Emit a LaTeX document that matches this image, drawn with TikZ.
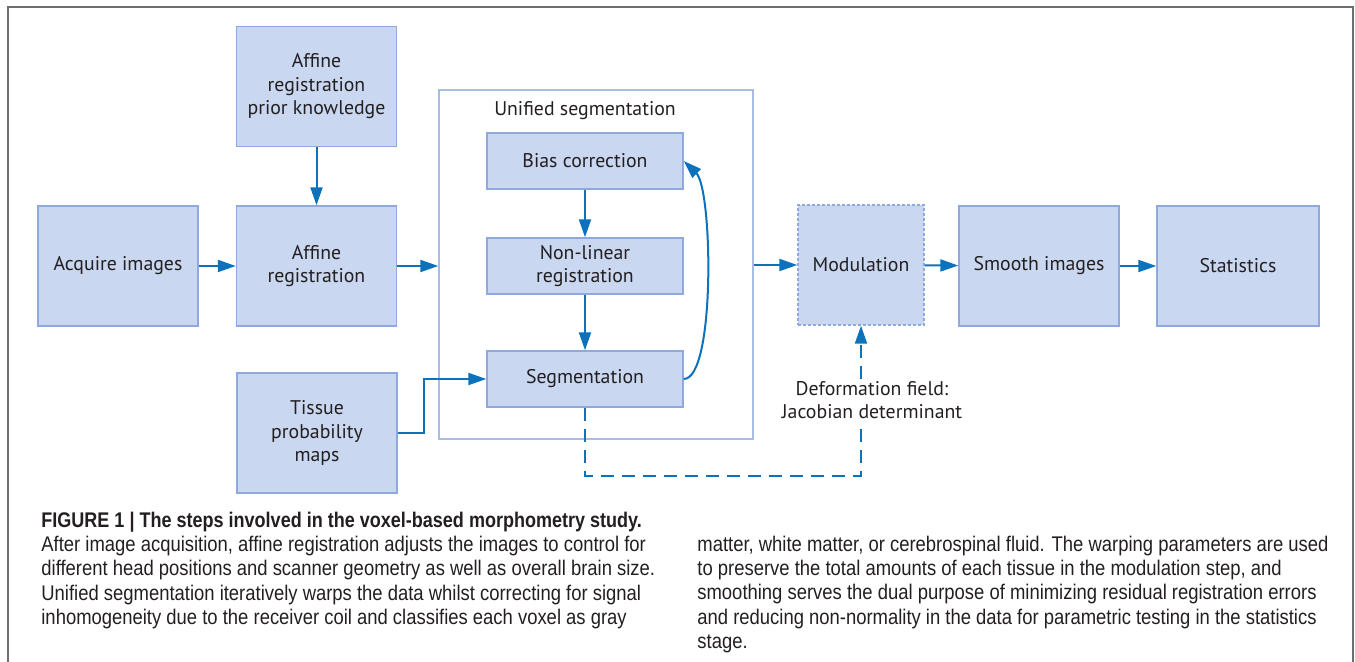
\documentclass[tikz,border=0pt]{standalone}
\usepackage{fontspec}
\setmainfont{PT Sans}
\newfontfamily\capfont[FakeStretch=0.87, BoldFeatures={FakeStretch=0.85}]{Liberation Sans}
\usepackage{tikz}
\usetikzlibrary{arrows.meta}
\definecolor{boxfill}{HTML}{C9D7F1}
\definecolor{boxline}{HTML}{8FA9DC}
\definecolor{frameline}{HTML}{A9BCE6}
\definecolor{flow}{HTML}{0B72BB}
\definecolor{ink}{HTML}{231F20}
\definecolor{pageline}{HTML}{6D6E71}
\newcommand{\diagfont}{\fontsize{9.9}{11.75}\selectfont}
\tikzstyle{process} = [rectangle, minimum width=80pt, minimum height=60pt, inner sep=0pt, text centered, align=center, draw=boxline, fill=boxfill, line width=0.7pt, text=ink, font=\diagfont]
\tikzstyle{subprocess} = [process, minimum width=98pt, minimum height=28pt]
\tikzstyle{optional} = [process, minimum width=63pt, dash pattern=on 1.5pt off 1pt]
\tikzstyle{group} = [rectangle, minimum width=157pt, minimum height=174.5pt, draw=frameline, line width=0.7pt]
\tikzstyle{note} = [text=ink, font=\diagfont, align=center, inner sep=1pt]
\tikzstyle{caption} = [text=ink, font={\capfont\fontsize{10.6}{12.05}\selectfont}, align=left, inner sep=0pt, anchor=north west]
\tikzstyle{arrow} = [line width=1pt, draw=flow, -{Triangle[length=9pt,width=6pt]}]
\tikzstyle{dashline} = [line width=1pt, draw=flow, dash pattern=on 6.5pt off 4pt]
\tikzstyle{dasharrow} = [arrow, dash pattern=on 6.5pt off 4pt]

\begin{document}
\begin{tikzpicture}[x=0.5pt, y=-0.5pt]
		\useasboundingbox (0,0) rectangle (1355,662);
		\draw [pageline, line width=0.8pt] (8,662) -- (8,7) -- (1353,7) -- (1353,662);
		
		\node (unified) [group] at (596,264.5) {};
		\node (title) [note] at (585,111) {Unified segmentation};
		
		\node (acq) [process] at (118,266) {Acquire images};
		\node (prior) [process] at (316.5,86.5) {Affine\\registration\\prior knowledge};
		\node (affine) [process] at (316.5,266) {Affine\\registration};
		\node (tpm) [process] at (317,433) {Tissue\\probability\\maps};
		
		\node (bias) [subprocess] at (585,161) {Bias correction};
		\node (nonlin) [subprocess] at (585,266) {Non-linear\\registration};
		\node (seg) [subprocess] at (585,379) {Segmentation};
		
		\node (mod) [optional] at (861,265) {Modulation};
		\node (smooth) [process] at (1039,266) {Smooth images};
		\node (stats) [process, minimum width=81pt] at (1238,266) {Statistics};
		\node (deform) [note] at (872,400) {Deformation field:\\Jacobian determinant};
		
		\draw [arrow] (acq) -- (affine);
		\draw [arrow] (prior) -- (affine);
		\draw [arrow] (affine.east) -- (affine.east -| unified.west);
		\draw [arrow] (tpm.east) -- ++(26,0) |- (seg.west);
		\draw [arrow] (bias) -- (nonlin);
		\draw [arrow] (nonlin) -- (seg);
		\draw [arrow] (seg.east) .. controls +(32,0) and +(29,28) .. (bias.east);
		\draw [arrow] (unified.east |- mod.west) -- (mod.west);
		\draw [arrow] (mod) -- (smooth);
		\draw [arrow] (smooth) -- (stats);
		
		\draw [dashline] (seg.south) -- ++(0,68) -| (deform.south -| mod.south);
		\draw [dasharrow] (deform.north -| mod.south) -- (mod.south);
		
		\node (capleft) [caption] at (41,512) {\textbf{FIGURE 1 | The steps involved in the voxel-based morphometry study.}\\
			After image acquisition, affine registration adjusts the images to control for\\
			different head positions and scanner geometry as well as overall brain size.\\
			Unified segmentation iteratively warps the data whilst correcting for signal\\
			inhomogeneity due to the receiver coil and classifies each voxel as gray};
		\node (capright) [caption] at (697,536) {matter, white matter, or cerebrospinal fluid. The warping parameters are used\\
			to preserve the total amounts of each tissue in the modulation step, and\\
			smoothing serves the dual purpose of minimizing residual registration errors\\
			and reducing non-normality in the data for parametric testing in the statistics\\
			stage.};
		
		\end{tikzpicture}
\end{document}
